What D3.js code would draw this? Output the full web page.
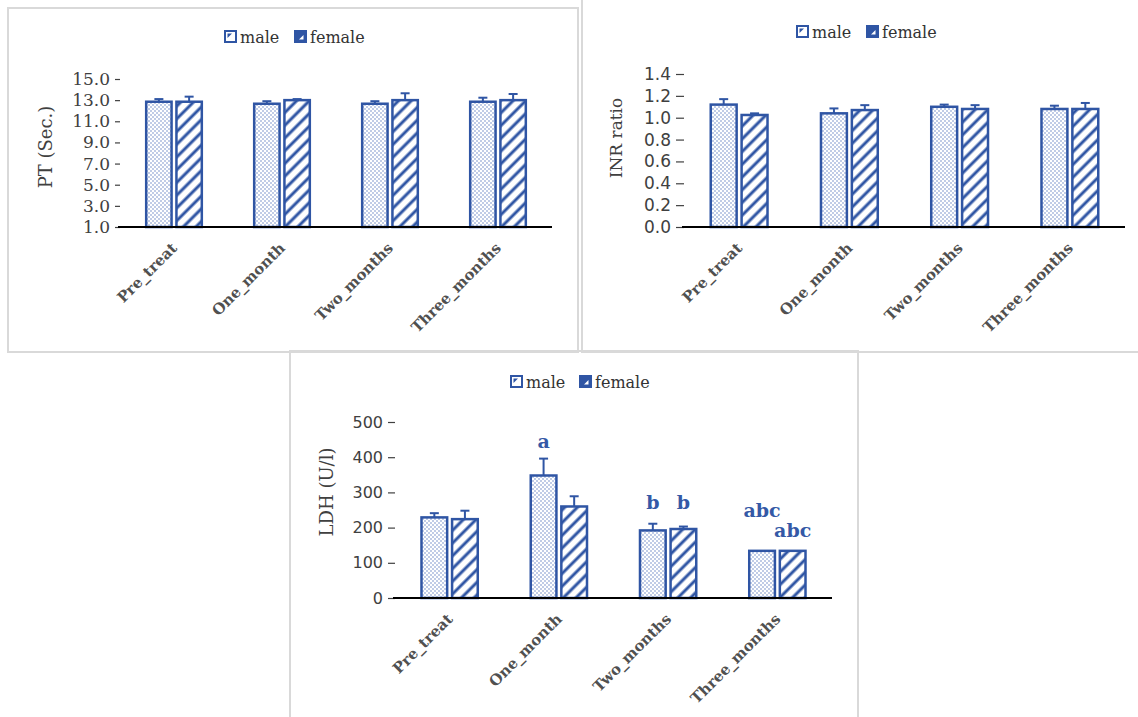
<!DOCTYPE html>
<html>
<head>
<meta charset="utf-8">
<script src="https://cdn.jsdelivr.net/npm/d3@7"></script>
<style>
  html, body { margin: 0; padding: 0; background: #ffffff; }
  svg { display: block; }
</style>
</head>
<body>
<svg id="chart" width="1138" height="717"></svg>
<script>
// ---- data ----
const categories = ["Pre_treat", "One_month", "Two_months", "Three_months"];
const seriesNames = ["male", "female"];

// Prothrombin time (sec), mean and SE
const ptMale = [12.85, 12.66, 12.66, 12.85];
const ptMaleSE = [0.25, 0.24, 0.24, 0.38];
const ptFemale = [12.85, 13.0, 13.0, 13.0];
const ptFemaleSE = [0.48, 0.1, 0.65, 0.58];
const ptTicks = [1, 3, 5, 7, 9, 11, 13, 15];

// INR ratio, mean and SE
const inrMale = [1.12, 1.04, 1.10, 1.08];
const inrMaleSE = [0.05, 0.045, 0.02, 0.03];
const inrFemale = [1.025, 1.07, 1.08, 1.08];
const inrFemaleSE = [0.015, 0.045, 0.035, 0.055];
const inrTicks = [0, 0.2, 0.4, 0.6, 0.8, 1.0, 1.2, 1.4];

// LDH (U/l), mean and SE, with significance letters
const ldhMale = [229, 348, 192, 134];
const ldhMaleSE = [12, 48, 19, 0];
const ldhFemale = [224, 260, 196, 134];
const ldhFemaleSE = [24, 29, 7, 0];
const ldhMaleLetters = ["", "a", "b", "abc"];
const ldhFemaleLetters = ["", "", "b", "abc"];
const ldhTicks = [0, 100, 200, 300, 400, 500];

// ---- styling ----
const BLUE = "#2f55a4";
const LETTER_BLUE = "#3459a6";
const TEXT = "#404040";
const SERIF = "'DejaVu Serif', 'Liberation Serif', serif";
const SANS = "'DejaVu Sans', 'Liberation Sans', sans-serif";

const svg = d3.select("#chart");

// patterns: dotted fill for male, diagonal hatch for female
const defs = svg.append("defs");
const dots = defs.append("pattern").attr("id", "dots")
  .attr("patternUnits", "userSpaceOnUse").attr("width", 4).attr("height", 4);
dots.append("rect").attr("width", 4).attr("height", 4).attr("fill", "#ffffff");
dots.append("circle").attr("cx", 1).attr("cy", 1).attr("r", 0.8).attr("fill", "#6f8cc8");
dots.append("circle").attr("cx", 3).attr("cy", 3).attr("r", 0.8).attr("fill", "#6f8cc8");

const hatch = defs.append("pattern").attr("id", "hatch")
  .attr("patternUnits", "userSpaceOnUse").attr("width", 9).attr("height", 9)
  .attr("patternTransform", "rotate(45)");
hatch.append("rect").attr("width", 9).attr("height", 9).attr("fill", "#ffffff");
hatch.append("line").attr("x1", 2).attr("y1", 0).attr("x2", 2).attr("y2", 9)
  .attr("stroke", BLUE).attr("stroke-width", 3);

const fills = ["url(#dots)", "url(#hatch)"];

// panel frames
const frames = [
  { x: 8, y: 8, w: 570, h: 344 },
  { x: 582, y: -2, w: 560, h: 354 },
  { x: 290, y: 351, w: 568, h: 372 }
];
svg.selectAll("rect.frame").data(frames).join("rect")
  .attr("class", "frame")
  .attr("x", d => d.x).attr("y", d => d.y)
  .attr("width", d => d.w).attr("height", d => d.h)
  .attr("fill", "none").attr("stroke", "#d9d9d9").attr("stroke-width", 2);

function drawPanel(cfg) {
  const g = svg.append("g");
  const x = d3.scaleBand().domain(categories).range([cfg.left, cfg.right]);
  const y = d3.scaleLinear().domain(cfg.domain).range([cfg.bottom, cfg.top]);
  const bw = x.bandwidth() * 0.235;
  const gap = x.bandwidth() * 0.045;
  const offsets = [-gap / 2 - bw, gap / 2];

  // y axis: tick marks and labels only
  const yAxis = d3.axisLeft(y).tickValues(cfg.ticks).tickFormat(d3.format(cfg.fmt))
    .tickSize(cfg.tickLen).tickPadding(5);
  const ya = g.append("g").attr("transform", `translate(${cfg.left},0)`).call(yAxis);
  ya.select(".domain").remove();
  ya.selectAll(".tick line").attr("stroke", TEXT).attr("stroke-width", 1.2);
  ya.selectAll(".tick text").attr("fill", TEXT)
    .style("font-family", cfg.tickFont).style("font-size", cfg.tickSize + "px");

  // bars, whiskers and letters per series
  cfg.series.forEach((s, si) => {
    const rows = categories.map((c, i) => ({ c, i, v: s.values[i], se: s.se[i], lab: s.letters ? s.letters[i] : "" }));
    const cx = r => x(r.c) + x.bandwidth() / 2 + offsets[si] + bw / 2;
    const sg = g.append("g");
    sg.selectAll("line.whisker").data(rows.filter(r => r.se > 0)).join("line")
      .attr("x1", cx).attr("x2", cx)
      .attr("y1", r => y(r.v)).attr("y2", r => y(r.v + r.se))
      .attr("stroke", BLUE).attr("stroke-width", 2);
    sg.selectAll("line.cap").data(rows.filter(r => r.se > 0)).join("line")
      .attr("x1", r => cx(r) - 4.5).attr("x2", r => cx(r) + 4.5)
      .attr("y1", r => y(r.v + r.se)).attr("y2", r => y(r.v + r.se))
      .attr("stroke", BLUE).attr("stroke-width", 2);
    sg.selectAll("rect.bar").data(rows).join("rect")
      .attr("x", r => cx(r) - bw / 2)
      .attr("y", r => y(r.v))
      .attr("width", bw)
      .attr("height", r => cfg.bottom - y(r.v))
      .attr("fill", fills[si]).attr("stroke", BLUE).attr("stroke-width", 2.5);
    if (s.letters) {
      sg.selectAll("text.letter").data(rows.filter(r => r.lab)).join("text")
        .attr("x", cx)
        .attr("y", r => y(r.v + r.se) - s.raise[r.i])
        .attr("text-anchor", "middle")
        .attr("fill", LETTER_BLUE)
        .style("font-family", SERIF).style("font-weight", "bold").style("font-size", "19px")
        .text(r => r.lab);
    }
  });

  // x axis baseline and rotated category labels
  const xAxis = d3.axisBottom(x).tickSize(0).tickPadding(0);
  const xa = g.append("g").attr("transform", `translate(0,${cfg.bottom})`).call(xAxis);
  xa.select(".domain").attr("stroke", "#000000").attr("stroke-width", 2)
    .attr("d", `M${cfg.left - 2},0H${cfg.right}`);
  xa.selectAll(".tick text")
    .attr("fill", "#505050")
    .attr("text-anchor", "end")
    .attr("dy", 0)
    .attr("y", 0)
    .attr("transform", `translate(4,22) rotate(-45)`)
    .style("font-family", SERIF).style("font-weight", "bold").style("font-size", "15px");

  // y axis title
  g.append("text")
    .attr("transform", `translate(${cfg.titleX},${cfg.titleY}) rotate(-90)`)
    .attr("text-anchor", "middle").attr("dominant-baseline", "central")
    .attr("fill", TEXT)
    .style("font-family", SERIF).style("font-size", cfg.titleSize + "px")
    .text(cfg.title);

  // legend
  const lg = g.append("g").attr("transform", `translate(${cfg.legendX},${cfg.legendY})`);
  const legendItems = seriesNames.map((n, i) => ({ n, i, dx: i === 0 ? 0 : cfg.legendGap }));
  const li = lg.selectAll("g").data(legendItems).join("g")
    .attr("transform", d => `translate(${d.dx},0)`);
  li.append("rect").attr("x", 1).attr("y", -6).attr("width", 11).attr("height", 11)
    .attr("fill", d => d.i === 0 ? "#ffffff" : BLUE)
    .attr("stroke", BLUE).attr("stroke-width", 2);
  li.append("path")
    .attr("d", d => d.i === 0 ? "M3.5,-3.5 L8,-3.5 L3.5,1 Z" : "M9.5,2.5 L5,2.5 L9.5,-2 Z")
    .attr("fill", d => d.i === 0 ? BLUE : "#ffffff");
  li.append("text").attr("x", 16).attr("y", 0)
    .attr("dominant-baseline", "central")
    .attr("fill", "#333333")
    .style("font-family", SERIF).style("font-size", "16px")
    .text(d => d.n);
}

drawPanel({
  left: 120, right: 552, top: 79, bottom: 227, domain: [1, 15],
  ticks: ptTicks, fmt: ".1f", tickFont: SERIF, tickSize: 17, tickLen: 5,
  title: "PT (Sec.)", titleX: 45, titleY: 147, titleSize: 18,
  legendX: 224, legendY: 37, legendGap: 70,
  series: [
    { values: ptMale, se: ptMaleSE },
    { values: ptFemale, se: ptFemaleSE }
  ]
});

drawPanel({
  left: 684, right: 1125, top: 74, bottom: 227, domain: [0, 1.4],
  ticks: inrTicks, fmt: ".1f", tickFont: SANS, tickSize: 17, tickLen: 8,
  title: "INR ratio", titleX: 616, titleY: 138, titleSize: 17,
  legendX: 796, legendY: 32, legendGap: 70,
  series: [
    { values: inrMale, se: inrMaleSE },
    { values: inrFemale, se: inrFemaleSE }
  ]
});

drawPanel({
  left: 395, right: 832, top: 422, bottom: 598, domain: [0, 500],
  ticks: ldhTicks, fmt: "d", tickFont: SANS, tickSize: 16, tickLen: 7,
  title: "LDH (U/l)", titleX: 326, titleY: 492, titleSize: 18,
  legendX: 510, legendY: 382, legendGap: 69,
  series: [
    { values: ldhMale, se: ldhMaleSE, letters: ldhMaleLetters, raise: [0, 11, 15, 34] },
    { values: ldhFemale, se: ldhFemaleSE, letters: ldhFemaleLetters, raise: [0, 0, 18, 14] }
  ]
});
</script>
</body>
</html>
